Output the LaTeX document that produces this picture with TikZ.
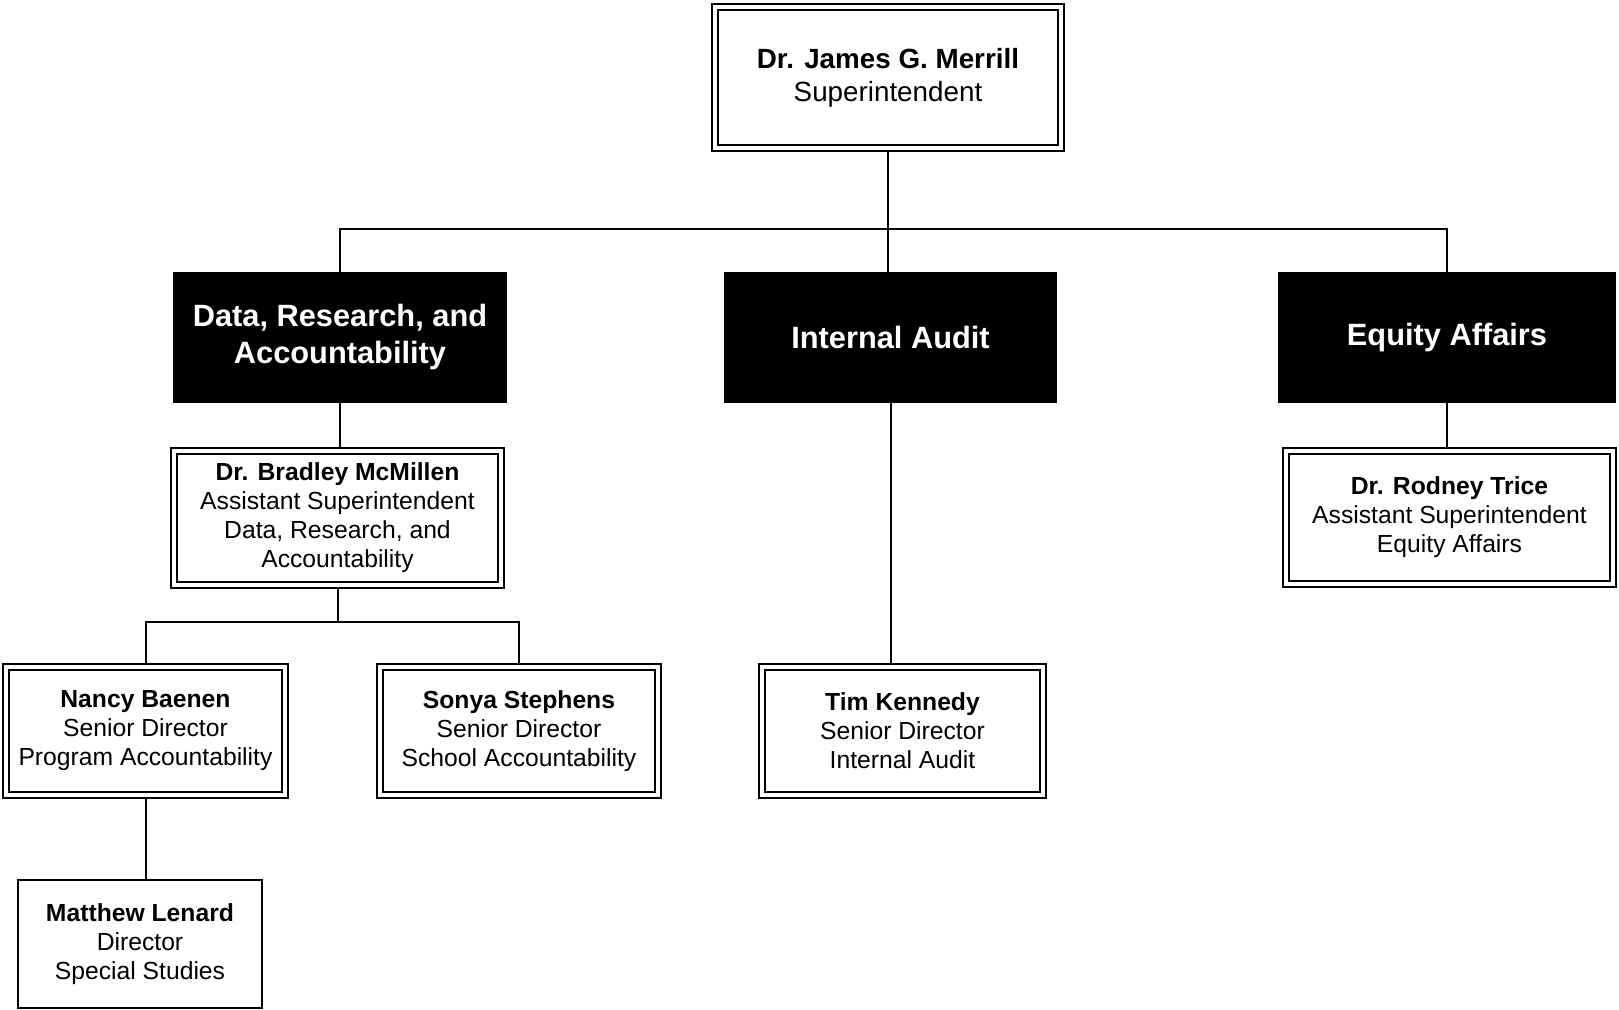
\documentclass[tikz,border=0pt]{standalone}
\usepackage{fontspec}
\setmainfont{Liberation Sans}
\usetikzlibrary{backgrounds}
\begin{document}
\begin{tikzpicture}[x=0.5pt,y=-0.5pt,
  dbox/.style={draw=black, line width=0.9pt, double=white, double distance=2pt,
    fill=white, inner sep=0pt, align=center,
    font=\fontsize{12.35}{14.5}\selectfont},
  sbox/.style={draw=black, line width=1pt, fill=white, inner sep=0pt, align=center,
    font=\fontsize{12.35}{14.5}\selectfont},
  blk/.style={draw=none, fill=black, text=white, inner sep=0pt, align=center,
    minimum height=65.5pt, font=\fontsize{15.4}{18.5}\selectfont\bfseries},
  conn/.style={draw=black, line width=1pt}
]
\useasboundingbox (0,0) rectangle (1619,1010);

\node[dbox, minimum width=173.2pt, minimum height=70.7pt,
  font=\fontsize{13.9}{16.5}\selectfont] (top) at (888,77.5)
  {\textbf{Dr. James G. Merrill}\\Superintendent};

\node[blk, minimum width=167pt] (dra) at (340,337.5) {Data, Research, and\\Accountability};
\node[blk, minimum width=166.5pt] (ia) at (890.5,337.5) {Internal Audit};
\node[blk, minimum width=169pt] (ea) at (1447,337.5) {Equity Affairs};

\node[dbox, minimum width=163.7pt, minimum height=67.2pt] (mcm) at (337.5,518)
  {\textbf{Dr. Bradley McMillen}\\Assistant Superintendent\\Data, Research, and\\Accountability};
\node[dbox, minimum width=163.7pt, minimum height=66.7pt] (rod) at (1449.5,517.5)
  {\textbf{Dr. Rodney Trice}\\Assistant Superintendent\\Equity Affairs};

\node[dbox, minimum width=139.7pt, minimum height=64.2pt] (nan) at (145.5,731)
  {\textbf{Nancy Baenen}\\Senior Director\\Program Accountability};
\node[dbox, minimum width=139.2pt, minimum height=64.2pt] (son) at (519,731)
  {\textbf{Sonya Stephens}\\Senior Director\\School Accountability};
\node[dbox, minimum width=140.7pt, minimum height=64.2pt] (tim) at (902.5,731)
  {\textbf{Tim Kennedy}\\Senior Director\\Internal Audit};

\node[sbox, minimum width=122pt, minimum height=64pt] (mat) at (140,944)
  {\textbf{Matthew Lenard}\\Director\\Special Studies};

\coordinate (tb) at (888,229);
\coordinate (sb) at (337.5,622);

\begin{scope}[on background layer]
  \draw[conn] (top.south) -- (tb);
  \draw[conn] (dra.north) |- (tb);
  \draw[conn] (ea.north) |- (tb);
  \draw[conn] (tb) -- (tb |- ia.north);
  \draw[conn] (dra.south) -- (dra.south |- mcm.north);
  \draw[conn] (mcm.south) -- (sb);
  \draw[conn] (nan.north) |- (sb);
  \draw[conn] (son.north) |- (sb);
  \draw[conn] (nan.south) -- (nan.south |- mat.north);
  \draw[conn] (ia.south) -- (ia.south |- tim.north);
  \draw[conn] (ea.south) -- (ea.south |- rod.north);
\end{scope}
\end{tikzpicture}
\end{document}
